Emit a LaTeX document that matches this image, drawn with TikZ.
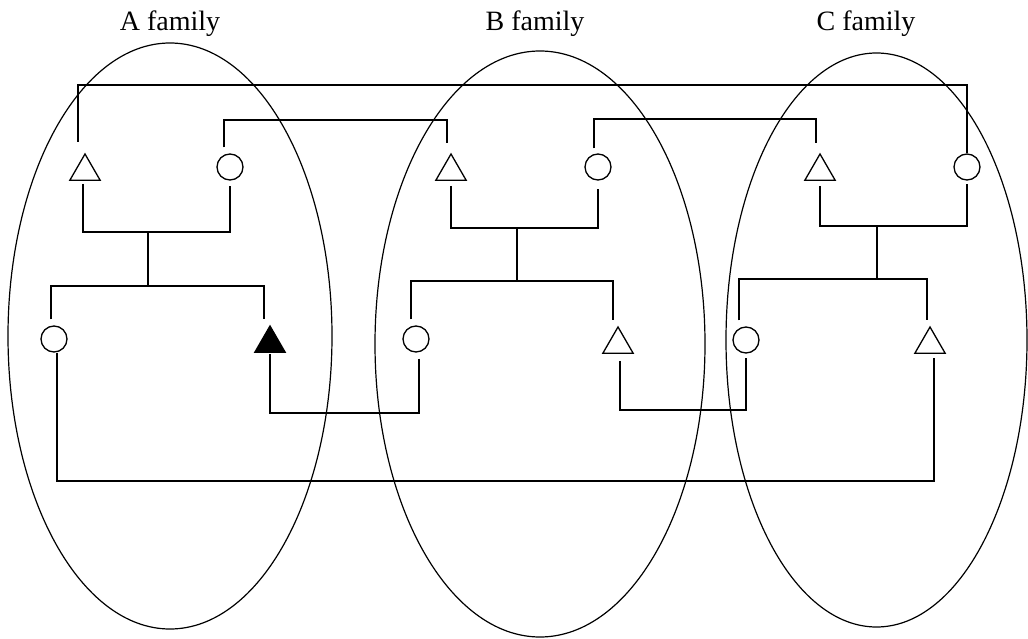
\documentclass[tikz,border=0pt]{standalone}
\usepackage{fontspec}
\setmainfont{Liberation Serif}
\usetikzlibrary{shapes.geometric}
\begin{document}
\begin{tikzpicture}[x=1pt,y=-1pt,
 conn/.style={line width=2.5pt},
 fam/.style={ellipse, draw, line width=1.2pt, inner sep=0pt},
 tri/.style={regular polygon, regular polygon sides=3, draw, line width=1.3pt, minimum size=35pt, inner sep=0pt},
 ftri/.style={tri, fill=black},
 circ/.style={circle, draw, line width=1.3pt, minimum size=26pt, inner sep=0pt},
 lab/.style={font=\fontsize{28}{30}\selectfont, anchor=base, inner sep=0pt}]
\useasboundingbox[fill=white] (0,0) rectangle (1028,639);

% family ellipses
\node[fam, minimum width=324pt, minimum height=586pt] (famA) at (170,336) {};
\node[fam, minimum width=330pt, minimum height=586pt] (famB) at (540,344) {};
\node[fam, minimum width=301pt, minimum height=574pt] (famC) at (876.5,340) {};

% labels
\node[lab] (labA) at (170,31) {A family};
\node[lab] (labB) at (535,31) {B family};
\node[lab] (labC) at (866,31) {C family};

% members
\node[tri]  (A1) at (85,171.5) {};
\node[circ] (A2) at (230,167) {};
\node[circ] (A3) at (54,339) {};
\node[ftri] (A4) at (270,343.5) {};
\node[tri]  (B1) at (451,171.5) {};
\node[circ] (B2) at (598,167) {};
\node[circ] (B3) at (416,339) {};
\node[tri]  (B4) at (618,344.5) {};
\node[tri]  (C1) at (820,171.5) {};
\node[circ] (C2) at (967,167) {};
\node[circ] (C3) at (746,340) {};
\node[tri]  (C4) at (930,344.5) {};

% junctions
\coordinate (sA) at (148,232); \coordinate (kA) at (148,286);
\coordinate (sB) at (517,228); \coordinate (kB) at (517,281);
\coordinate (sC) at (877,226); \coordinate (kC) at (877,279);
\coordinate (yTop) at (0,85);
\coordinate (yAB) at (0,120);
\coordinate (yBC) at (0,119);
\coordinate (yL1) at (0,413);
\coordinate (yL2) at (0,410);
\coordinate (yBot) at (0,481);

% family A
\draw[conn, shorten <=3pt, shorten >=5pt] ([xshift=-2pt]A1.south) |- (sA) -| (A2.south);
\draw[conn] (sA) -- (kA);
\draw[conn, shorten <=6pt, shorten >=6pt] ([xshift=-3pt]A3.north) |- (kA) -| ([xshift=-6pt]A4.north);
% family B
\draw[conn, shorten <=5pt, shorten >=8pt] (B1.south) |- (sB) -| (B2.south);
\draw[conn] (sB) -- (kB);
\draw[conn, shorten <=6pt, shorten >=6pt] ([xshift=-5pt]B3.north) |- (kB) -| ([xshift=-5pt]B4.north);
% family C
\draw[conn, shorten <=5pt, shorten >=3pt] (C1.south) |- (sC) -| (C2.south);
\draw[conn] (sC) -- (kC);
\draw[conn, shorten <=6pt, shorten >=6pt] ([xshift=-7pt]C3.north) |- (kC) -| ([xshift=-3pt]C4.north);

% cross links
\draw[conn, shorten <=11pt] ([xshift=-7pt]A1.north) -- ([xshift=-7pt]A1.north |- yTop) -| (C2.north);
\draw[conn, shorten <=6pt, shorten >=10pt] ([xshift=-6pt]A2.north) -- ([xshift=-6pt]A2.north |- yAB) -| ([xshift=-4pt]B1.north);
\draw[conn, shorten <=5pt, shorten >=10pt] ([xshift=-4pt]B2.north) -- ([xshift=-4pt]B2.north |- yBC) -| ([xshift=-4pt]C1.north);
\draw[conn, shorten <=6pt, shorten >=1pt] ([xshift=3pt]B3.south) -- ([xshift=3pt]B3.south |- yL1) -| (A4.south);
\draw[conn, shorten <=7pt, shorten >=4pt] ([xshift=2pt]B4.south) -- ([xshift=2pt]B4.south |- yL2) -| (C3.south);
\draw[conn, shorten >=4pt] ([xshift=3pt]A3.south) -- ([xshift=3pt]A3.south |- yBot) -| ([xshift=4pt]C4.south);
\end{tikzpicture}
\end{document}
